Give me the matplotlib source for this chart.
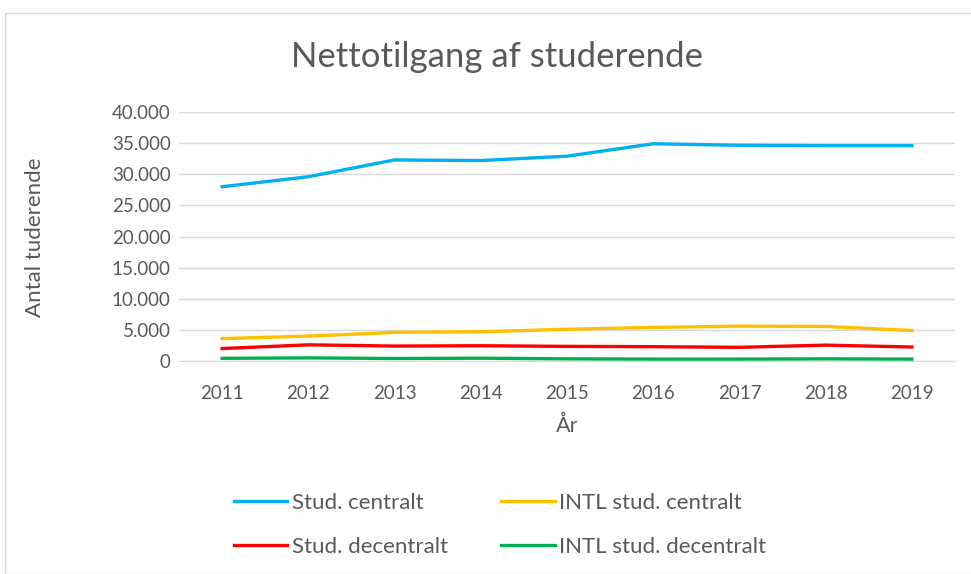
#Librerias.
import matplotlib
matplotlib.use("Agg")
import matplotlib.pyplot as plt
from matplotlib.patches import Rectangle
from matplotlib.ticker import FuncFormatter

#Datos.
aar = ["2011", "2012", "2013", "2014", "2015", "2016", "2017", "2018", "2019"]
stud_centralt = [28000, 29600, 32300, 32200, 32900, 34900, 34650, 34600, 34600]
intl_centralt = [3600, 4000, 4600, 4700, 5100, 5400, 5600, 5550, 4900]
stud_decentralt = [2000, 2600, 2400, 2450, 2350, 2300, 2200, 2550, 2250]
intl_decentralt = [430, 500, 400, 450, 350, 300, 300, 350, 300]

plt.rcParams['font.family'] = ['Lato', 'DejaVu Sans']
grå = '#595959'

fig = plt.figure(figsize=(9.71, 5.74), dpi=100)
#Ramme rundt om diagrammet.
fig.patches.append(Rectangle((5/971, 0), 1, 1 - 13/574, transform=fig.transFigure,
                             fill=False, edgecolor='#d9d9d9', linewidth=1))
ax = fig.add_axes([179/971, 1 - 361/574, (955 - 179)/971, (361 - 112)/574])

x = range(len(aar))
l1, = ax.plot(x, stud_centralt, color='#00B0F0', lw=2.4, label='Stud. centralt')
l2, = ax.plot(x, intl_centralt, color='#FFC000', lw=2.4, label='INTL stud. centralt')
l3, = ax.plot(x, stud_decentralt, color='#FF0000', lw=2.4, label='Stud. decentralt')
l4, = ax.plot(x, intl_decentralt, color='#00B050', lw=2.4, label='INTL stud. decentralt')

ax.set_xlim(-0.5, len(aar) - 0.5)
ax.set_ylim(0, 40000)
ax.set_yticks(range(0, 40001, 5000))
ax.yaxis.set_major_formatter(FuncFormatter(lambda v, p: f'{int(v):,}'.replace(',', '.')))
ax.set_xticks(list(x))
ax.set_xticklabels(aar)
ax.grid(axis='y', color='#d9d9d9', lw=1)
ax.set_axisbelow(True)
for s in ['top', 'right', 'left']:
    ax.spines[s].set_visible(False)
ax.spines['bottom'].set_color('#d9d9d9')
ax.tick_params(length=0, labelsize=13.5, colors=grå)
ax.tick_params(axis='x', pad=17)
ax.tick_params(axis='y', pad=6)

ax.set_xlabel('År', fontsize=15.5, color=grå, labelpad=10)
fig.text(35/971, 1 - 237/574, 'Antal tuderende', rotation=90, fontsize=16,
         color=grå, ha='center', va='center')
fig.text(497/971, 1 - 57/574, 'Nettotilgang af studerende', fontsize=25,
         color=grå, ha='center', va='center')

#Orden: kolonnevis, saa raekkerne bliver som i originalen.
leg = fig.legend([l1, l3, l2, l4], [l.get_label() for l in [l1, l3, l2, l4]],
                 loc='center', bbox_to_anchor=(500/971, 1 - 525/574), ncol=2,
                 frameon=False, fontsize=16, handlelength=2.4, handletextpad=0.22,
                 columnspacing=2.4, labelspacing=1.1)
for t in leg.get_texts():
    t.set_color(grå)

fig.savefig('out.png', dpi=100)
